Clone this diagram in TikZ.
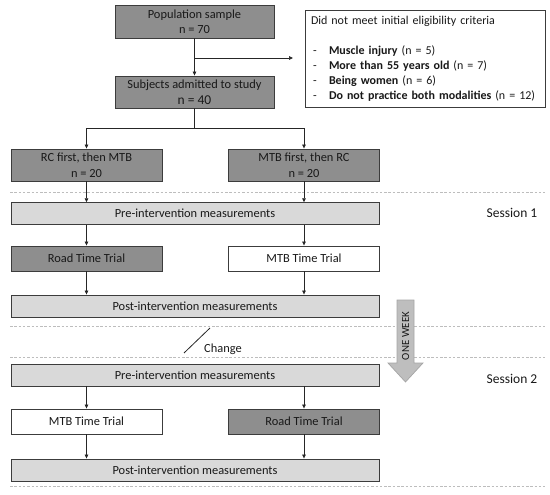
\documentclass[tikz,border=0pt]{standalone}
\usepackage{fontspec}
\setmainfont{Carlito}
\usetikzlibrary{arrows.meta}
\definecolor{darkbox}{HTML}{8E8E8E}
\definecolor{lightbox}{HTML}{D9D9D9}
\definecolor{edgecol}{HTML}{3C3C3C}
\definecolor{sepcol}{HTML}{BDBDBD}
\definecolor{weekfill}{HTML}{BEBEBE}
\definecolor{weekedge}{HTML}{A5A5A5}
\newcommand{\exitem}[2]{\mbox{\makebox[18pt][l]{\hspace{2pt}-}\textbf{#1} #2}}
\begin{document}
\begin{tikzpicture}[x=1pt,y=-1pt,
  box/.style={draw=edgecol, line width=0.9pt, inner sep=0pt, align=center,
    font=\fontsize{12.4}{15.5}\selectfont, text=black!90},
  darkb/.style={box, fill=darkbox},
  lightb/.style={box, fill=lightbox},
  whiteb/.style={box, fill=white},
  small/.style={minimum width=151pt},
  wide/.style={minimum width=368pt, minimum height=21.5pt},
  arr/.style={-{Triangle[length=4pt,width=3.6pt]}, line width=0.7pt, black!85},
  sepline/.style={sepcol, line width=0.6pt, dash pattern=on 2.5pt off 1.8pt},
  lbl/.style={font=\fontsize{13.5}{16}\selectfont, text=black!90}
]
\useasboundingbox (0,0) rectangle (550,495);

% separators
\coordinate (s1l) at (10,192); \coordinate (s1r) at (545,192);
\coordinate (s2l) at (10,326); \coordinate (s2r) at (545,326);
\coordinate (s3l) at (10,357); \coordinate (s3r) at (545,357);
\coordinate (s4l) at (10,486); \coordinate (s4r) at (545,486);
\draw[sepline] (s1l) -- (s1r);
\draw[sepline] (s2l) -- (s2r);
\draw[sepline] (s3l) -- (s3r);
\draw[sepline] (s4l) -- (s4r);

% top part
\node[darkb, minimum width=159pt, minimum height=33pt] (pop) at (194.5,21.5)
  {Population sample\\n = 70};
\node[darkb, minimum width=159pt, minimum height=32pt] (subj) at (194.5,92)
  {Subjects admitted to study\\{\fontsize{13.5}{16}\selectfont n = 40}};
\node[draw=edgecol, line width=0.9pt, fill=white, minimum width=240pt,
  minimum height=97pt, text width=228pt, inner xsep=6pt, inner ysep=0pt,
  align=left, font=\fontsize{12}{15}\selectfont, text=black!90] (excl) at (425,58.5)
  {\mbox{Did not meet initial eligibility criteria}\\[15pt]
   \exitem{Muscle injury}{(n = 5)}\\
   \exitem{More than 55 years old}{(n = 7)}\\
   \exitem{Being women}{(n = 6)}\\
   \exitem{Do not practice both modalities}{(n = 12)}};

\coordinate (br) at (194.5,58);
\coordinate (brtip) at (293,58);
\draw[arr] (pop.south) -- (subj.north);
\draw[arr] (br) -- (brtip);

\node[darkb, small, minimum height=32pt] (rc) at (86.5,165) {RC first, then MTB\\n = 20};
\node[darkb, small, minimum height=32pt] (mtbf) at (304,165) {MTB first, then RC\\n = 20};
\coordinate (split) at (194.5,128);
\draw[arr] (subj.south) -- (split) -| (rc.north);
\draw[arr] (split) -| (mtbf.north);

% session 1
\node[lightb, wide] (pre1) at (195,213.5) {Pre-intervention measurements};
\node[darkb, small, minimum height=25pt] (road1) at (86.5,258.5) {Road Time Trial};
\node[whiteb, small, minimum height=25pt] (mtb1) at (304,258.5) {MTB Time Trial};
\node[lightb, wide, minimum height=22pt] (post1) at (195,306) {Post-intervention measurements};
\draw[arr] (rc.south) -- (rc.south |- pre1.north);
\draw[arr] (mtbf.south) -- (mtbf.south |- pre1.north);
\draw[arr] (pre1.south -| road1) -- (road1.north);
\draw[arr] (pre1.south -| mtb1) -- (mtb1.north);
\draw[arr] (road1.south) -- (road1.south |- post1.north);
\draw[arr] (mtb1.south) -- (mtb1.south |- post1.north);
\node[lbl] (ses1) at (512,213) {Session 1};

% change
\coordinate (cha) at (184,353);
\coordinate (chb) at (210,328);
\draw[line width=0.8pt, black!85] (cha) -- (chb);
\node[font=\fontsize{12.4}{15}\selectfont, text=black!90, anchor=west, inner sep=0pt] (chg) at (204,349) {Change};

% one week arrow
\draw[weekedge, fill=weekfill, line width=0.7pt]
  (397,300) -- (414,300) -- (414,363) -- (423,363) -- (405.5,382) -- (388,363) -- (397,363) -- cycle;
\node[rotate=90, font=\fontsize{10.9}{12}\selectfont, text=black!90, inner sep=0pt] (week) at (405.5,336) {ONE WEEK};

% session 2
\node[lightb, wide, minimum height=22pt] (pre2) at (195,375) {Pre-intervention measurements};
\node[whiteb, small, minimum height=25pt] (mtb2) at (86.5,421.5) {MTB Time Trial};
\node[darkb, small, minimum height=25pt] (road2) at (304,421.5) {Road Time Trial};
\node[lightb, wide, minimum height=22pt] (post2) at (195,470) {Post-intervention measurements};
\draw[arr] (pre2.south -| mtb2) -- (mtb2.north);
\draw[arr] (pre2.south -| road2) -- (road2.north);
\draw[arr] (mtb2.south) -- (mtb2.south |- post2.north);
\draw[arr] (road2.south) -- (road2.south |- post2.north);
\node[lbl] (ses2) at (512,379) {Session 2};
\end{tikzpicture}
\end{document}
